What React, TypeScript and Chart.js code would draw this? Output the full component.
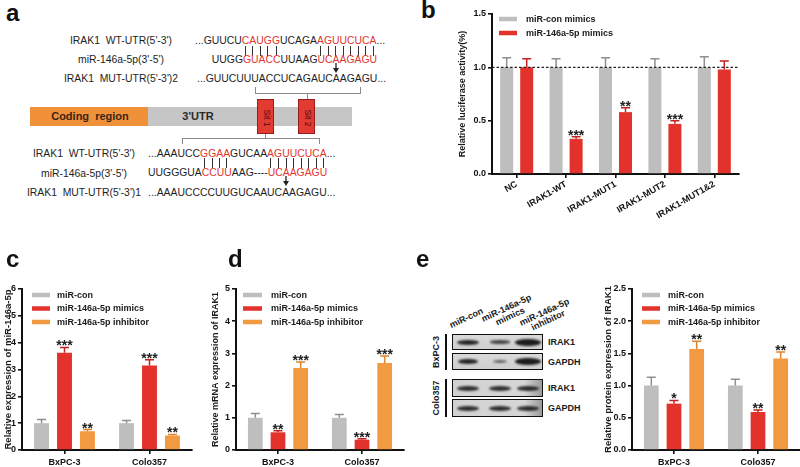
import React, { useEffect, useRef } from 'react';
import { Chart, registerables } from 'chart.js';
Chart.register(...registerables);

const FONT = '"Liberation Sans", Arial, Helvetica, sans-serif';
const GREY = '#BEBEBE';
const RED = '#E2322B';
const ORANGE = '#F29A42';
const GREY_ERR = '#8f8f8f';
const RED_ERR = '#C42222';
const ORANGE_ERR = '#DE842C';
const SEQ_RED = '#E2352E';

// ---------- Panel b data ----------
const bCategories = ['NC', 'IRAK1-WT', 'IRAK1-MUT1', 'IRAK1-MUT2', 'IRAK1-MUT1&2'];
const bSeriesNames = ['miR-con mimics', 'miR-146a-5p mimics'];
const bConValues = [1.0, 1.0, 1.0, 1.0, 1.0];
const bConErrors = [0.09, 0.08, 0.09, 0.08, 0.1];
const bConStars = ['', '', '', '', ''];
const bMimicValues = [1.0, 0.33, 0.58, 0.47, 0.98];
const bMimicErrors = [0.08, 0.02, 0.04, 0.03, 0.08];
const bMimicStars = ['', '***', '**', '***', ''];

// ---------- Panels c, d, e data ----------
const cellLines = ['BxPC-3', 'Colo357'];
const groupNames = ['miR-con', 'miR-146a-5p mimics', 'miR-146a-5p inhibitor'];

const cConValues = [1.0, 1.0];
const cConErrors = [0.14, 0.1];
const cMimicValues = [3.62, 3.15];
const cMimicErrors = [0.2, 0.21];
const cMimicStars = ['***', '***'];
const cInhibValues = [0.7, 0.54];
const cInhibErrors = [0.06, 0.04];
const cInhibStars = ['**', '**'];

const dConValues = [1.0, 1.0];
const dConErrors = [0.13, 0.1];
const dMimicValues = [0.55, 0.32];
const dMimicErrors = [0.05, 0.03];
const dMimicStars = ['**', '***'];
const dInhibValues = [2.55, 2.7];
const dInhibErrors = [0.18, 0.22];
const dInhibStars = ['***', '***'];

const eConValues = [1.0, 1.0];
const eConErrors = [0.13, 0.1];
const eMimicValues = [0.72, 0.59];
const eMimicErrors = [0.05, 0.03];
const eMimicStars = ['*', '**'];
const eInhibValues = [1.57, 1.42];
const eInhibErrors = [0.12, 0.1];
const eInhibStars = ['**', '**'];
const noStars = ['', ''];

// ---------- Panel a text ----------
const upperLabels = ["IRAK1  WT-UTR(5'-3')", "miR-146a-5p(3'-5')", "IRAK1  MUT-UTR(5'-3')2"];
const lowerLabels = ["IRAK1  WT-UTR(5'-3')", "miR-146a-5p(3'-5')", "IRAK1  MUT-UTR(5'-3')1"];
const upperSeqWT = '...GUUCUCAUGGUCAGAAGUUCUCA...';
const upperSeqMiR = 'UUGGGUACCUUAAGUCAAGAGU';
const upperSeqMUT = '...GUUCUUUACCUCAGAUCAAGAGU...';
const lowerSeqWT = '...AAAUCCGGAAGUCAAAGUUCUCA...';
const lowerSeqMiR = 'UUGGGUACCUUAAG----UCAAGAGU';
const lowerSeqMUT = '...AAAUCCCCUUGUCAAUCAAGAGU...';

// ---------- Blot text ----------
const blotLanes = ['miR-con', 'miR-146a-5p\nmimics', 'miR-146a-5p\ninhibitor'];
const blotRows = ['IRAK1', 'GAPDH', 'IRAK1', 'GAPDH'];
const blotCells = ['BxPC-3', 'Colo357'];
// band [width, height, opacity] per row and lane
const blotBands = [
  [[22, 5, 0.9], [20, 3.5, 0.75], [26, 7, 0.95]],
  [[20, 5, 0.9], [14, 3, 0.6], [26, 7, 0.95]],
  [[22, 5, 0.85], [22, 5, 0.85], [22, 5, 0.85]],
  [[22, 5, 0.85], [22, 5, 0.85], [22, 5, 0.85]],
];

const range = (a: number, b: number) => {
  const r: number[] = [];
  for (let i = a; i <= b; i++) r.push(i);
  return r;
};

type SeriesDef = { name: string; values: number[]; errors: number[]; stars: string[]; color: string; errColor: string };
type ChartDef = {
  box: number[];
  axisX: number; axisY: number; plotTop: number; plotRight: number;
  categories: string[]; series: SeriesDef[];
  yMax: number; yStep: number; yDecimals: number;
  yTitle: string; yTitleX: number; yTitleSize: number;
  legendX: number; legendW: number; legendTextX: number; legendY: number; legendGap: number;
  catPct: number; barPct: number; xRotation: number; refLine?: number;
};

function makePlugin(def: ChartDef) {
  const ox = def.box[0];
  const oy = def.box[1];
  return {
    id: 'decor',
    afterDatasetsDraw(chart: any) {
      const ctx = chart.ctx;
      const ys = chart.scales.y;
      def.series.forEach((s, i) => {
        const meta = chart.getDatasetMeta(i);
        meta.data.forEach((el: any, j: number) => {
          const x = el.x;
          const top = el.y;
          const et = ys.getPixelForValue(s.values[j] + s.errors[j]);
          ctx.save();
          ctx.strokeStyle = s.errColor;
          ctx.lineWidth = 1.5;
          ctx.beginPath();
          ctx.moveTo(x, top);
          ctx.lineTo(x, et);
          ctx.moveTo(x - 4.5, et);
          ctx.lineTo(x + 4.5, et);
          ctx.stroke();
          if (s.stars[j]) {
            ctx.fillStyle = '#222';
            ctx.font = `bold 14px ${FONT}`;
            ctx.textAlign = 'center';
            ctx.textBaseline = 'alphabetic';
            ctx.fillText(s.stars[j], x, et + 3);
          }
          ctx.restore();
        });
      });
      if (def.refLine !== undefined) {
        const yy = ys.getPixelForValue(def.refLine);
        ctx.save();
        ctx.strokeStyle = '#222';
        ctx.lineWidth = 1.2;
        ctx.setLineDash([2.5, 2]);
        ctx.beginPath();
        ctx.moveTo(chart.chartArea.left, yy);
        ctx.lineTo(chart.chartArea.right, yy);
        ctx.stroke();
        ctx.restore();
      }
    },
    afterDraw(chart: any) {
      const ctx = chart.ctx;
      ctx.save();
      def.series.forEach((s, i) => {
        const y = def.legendY + i * def.legendGap - oy;
        ctx.fillStyle = s.color;
        ctx.fillRect(def.legendX - ox, y - 2.25, def.legendW, 4.5);
        ctx.fillStyle = '#1a1a1a';
        ctx.font = `bold 9px ${FONT}`;
        ctx.textAlign = 'left';
        ctx.textBaseline = 'middle';
        ctx.fillText(s.name, def.legendTextX - ox, y + 0.5);
      });
      ctx.translate(def.yTitleX - ox, (def.plotTop + def.axisY) / 2 - oy);
      ctx.rotate(-Math.PI / 2);
      ctx.fillStyle = '#1a1a1a';
      ctx.font = `bold ${def.yTitleSize}px ${FONT}`;
      ctx.textAlign = 'center';
      ctx.textBaseline = 'middle';
      ctx.fillText(def.yTitle, 0, 0);
      ctx.restore();
    },
  };
}

function BarChart({ def }: { def: ChartDef }) {
  const ref = useRef<HTMLCanvasElement>(null);
  const [left, top, width, height] = def.box;
  useEffect(() => {
    const grid = { display: true, drawOnChartArea: false, drawTicks: true, tickLength: 4, color: '#111', lineWidth: 1.6 };
    const border = { display: true, color: '#111', width: 2 };
    const font = { family: FONT, size: 9, weight: 'bold' as const };
    const chart = new Chart(ref.current as HTMLCanvasElement, {
      type: 'bar',
      data: {
        labels: def.categories,
        datasets: def.series.map((s) => ({
          label: s.name,
          data: s.values,
          backgroundColor: s.color,
          borderWidth: 0,
          categoryPercentage: def.catPct,
          barPercentage: def.barPct,
        })),
      },
      options: {
        responsive: false,
        animation: false,
        devicePixelRatio: 1,
        layout: { padding: { top: def.plotTop - top, right: left + width - def.plotRight, left: 0, bottom: 0 } },
        plugins: { legend: { display: false }, tooltip: { enabled: false } },
        scales: {
          x: {
            type: 'category',
            offset: true,
            grid: { ...grid, offset: false },
            border,
            ticks: {
              color: '#111',
              font,
              autoSkip: false,
              minRotation: def.xRotation,
              maxRotation: def.xRotation,
              padding: def.xRotation ? 1 : 3,
            },
            afterFit: (s: any) => {
              s.height = top + height - def.axisY;
            },
          },
          y: {
            min: 0,
            max: def.yMax,
            grid,
            border,
            ticks: {
              color: '#111',
              font,
              stepSize: def.yStep,
              padding: 2,
              callback: (v: any) => Number(v).toFixed(def.yDecimals),
            },
            afterFit: (s: any) => {
              s.width = def.axisX - left;
            },
          },
        },
      } as any,
      plugins: [makePlugin(def) as any],
    });
    return () => chart.destroy();
  }, []);
  return (
    <canvas
      ref={ref}
      width={width}
      height={height}
      style={{ position: 'absolute', left, top, width, height }}
    />
  );
}

const mk = (name: string, values: number[], errors: number[], stars: string[], color: string, errColor: string): SeriesDef => ({
  name, values, errors, stars, color, errColor,
});

const bDef: ChartDef = {
  box: [450, 0, 295, 240],
  axisX: 492, axisY: 174, plotTop: 14, plotRight: 739,
  categories: bCategories,
  series: [
    mk(bSeriesNames[0], bConValues, bConErrors, bConStars, GREY, GREY_ERR),
    mk(bSeriesNames[1], bMimicValues, bMimicErrors, bMimicStars, RED, RED_ERR),
  ],
  yMax: 1.5, yStep: 0.5, yDecimals: 1,
  yTitle: 'Relative luciferase activity(%)', yTitleX: 463, yTitleSize: 9,
  legendX: 499, legendW: 18, legendTextX: 526, legendY: 19, legendGap: 14,
  catPct: 0.81, barPct: 0.65, xRotation: 30, refLine: 1.0,
};

const cDef: ChartDef = {
  box: [0, 240, 205, 227],
  axisX: 22, axisY: 450, plotTop: 289, plotRight: 192,
  categories: cellLines,
  series: [
    mk(groupNames[0], cConValues, cConErrors, noStars, GREY, GREY_ERR),
    mk(groupNames[1], cMimicValues, cMimicErrors, cMimicStars, RED, RED_ERR),
    mk(groupNames[2], cInhibValues, cInhibErrors, cInhibStars, ORANGE, ORANGE_ERR),
  ],
  yMax: 6, yStep: 1, yDecimals: 0,
  yTitle: 'Relative expression of miR-146a-5p', yTitleX: 8, yTitleSize: 9.5,
  legendX: 32, legendW: 18, legendTextX: 57, legendY: 295, legendGap: 13.5,
  catPct: 0.81, barPct: 0.65, xRotation: 0,
};

const dDef: ChartDef = {
  box: [205, 240, 205, 227],
  axisX: 236, axisY: 450, plotTop: 289, plotRight: 404,
  categories: cellLines,
  series: [
    mk(groupNames[0], dConValues, dConErrors, noStars, GREY, GREY_ERR),
    mk(groupNames[1], dMimicValues, dMimicErrors, dMimicStars, RED, RED_ERR),
    mk(groupNames[2], dInhibValues, dInhibErrors, dInhibStars, ORANGE, ORANGE_ERR),
  ],
  yMax: 5, yStep: 1, yDecimals: 0,
  yTitle: 'Relative mRNA expression of IRAK1', yTitleX: 216, yTitleSize: 9,
  legendX: 243, legendW: 19, legendTextX: 271, legendY: 295, legendGap: 13.5,
  catPct: 0.81, barPct: 0.65, xRotation: 0,
};

const eDef: ChartDef = {
  box: [595, 240, 205, 227],
  axisX: 632, axisY: 450, plotTop: 289, plotRight: 800,
  categories: cellLines,
  series: [
    mk(groupNames[0], eConValues, eConErrors, noStars, GREY, GREY_ERR),
    mk(groupNames[1], eMimicValues, eMimicErrors, eMimicStars, RED, RED_ERR),
    mk(groupNames[2], eInhibValues, eInhibErrors, eInhibStars, ORANGE, ORANGE_ERR),
  ],
  yMax: 2.5, yStep: 0.5, yDecimals: 1,
  yTitle: 'Relative protein expression of IRAK1', yTitleX: 608, yTitleSize: 9.5,
  legendX: 642, legendW: 18, legendTextX: 668, legendY: 295, legendGap: 13.5,
  catPct: 0.81, barPct: 0.65, xRotation: 0,
};

// ---------- Panel a components ----------
const SEQ_FS = 10.4;

function Seq({ x, cy, text, red = [], hideFirst = 0, pairs, arrow }: any) {
  const ghost = !!pairs || arrow !== undefined;
  return (
    <div style={{ position: 'absolute', left: x, top: cy - 6, fontSize: SEQ_FS, lineHeight: '12px', whiteSpace: 'pre' }}>
      {text.split('').map((ch: string, i: number) => {
        const hidden = ghost || i < hideFirst;
        const color = hidden ? 'transparent' : red.includes(i) ? SEQ_RED : '#1e1e1e';
        return (
          <span key={i} style={{ display: 'inline-block', position: 'relative', color }}>
            {ch}
            {pairs && pairs.includes(i) && (
              <span style={{ position: 'absolute', left: '45%', top: 1, width: 1, height: 10, background: '#333' }} />
            )}
            {arrow === i && (
              <svg width="8" height="10" style={{ position: 'absolute', left: '50%', marginLeft: -4, top: 1 }}>
                <line x1="4" y1="0" x2="4" y2="7" stroke="#222" strokeWidth="1.3" />
                <polygon points="1,5 7,5 4,10" fill="#222" />
              </svg>
            )}
          </span>
        );
      })}
    </div>
  );
}

function Label({ cx, cy, text }: any) {
  return (
    <div style={{ position: 'absolute', left: cx - 100, width: 200, top: cy - 6, textAlign: 'center', fontSize: SEQ_FS, lineHeight: '12px', whiteSpace: 'pre', color: '#1e1e1e' }}>
      {text}
    </div>
  );
}

const Line = ({ x1, y1, x2, y2 }: any) => (
  <div style={{ position: 'absolute', left: Math.min(x1, x2), top: Math.min(y1, y2), width: Math.max(Math.abs(x2 - x1), 1), height: Math.max(Math.abs(y2 - y1), 1), background: '#8a8a8a' }} />
);

function PanelA() {
  const upPrefix = '...G';
  return (
    <>
      {upperLabels.map((t, i) => (
        <Label key={'u' + i} cx={121} cy={41 + i * 19} text={t} />
      ))}
      <Seq x={195} cy={41} text={upperSeqWT} red={[...range(8, 12), ...range(18, 25)]} />
      <Seq x={195} cy={51} text={upperSeqWT} pairs={[...range(8, 12), ...range(18, 25)]} />
      <Seq x={195} cy={60} text={upPrefix + upperSeqMiR} hideFirst={4} red={[...range(8, 12), ...range(18, 25)]} />
      <Seq x={195} cy={68} text={upPrefix + upperSeqMiR} arrow={20} />
      <Seq x={197} cy={79} text={upperSeqMUT} />

      <Line x1={255} y1={87} x2={256} y2={93} />
      <Line x1={255} y1={93} x2={361} y2={94} />
      <Line x1={360} y1={87} x2={361} y2={93} />
      <Line x1={307} y1={93} x2={308} y2={100} />

      <div style={{ position: 'absolute', left: 30, top: 107, width: 118, height: 19, background: '#F0913A' }} />
      <div style={{ position: 'absolute', left: 148, top: 107, width: 204, height: 19, background: '#C6C6C6' }} />
      <div style={{ position: 'absolute', left: 30, top: 107, width: 120, height: 19, lineHeight: '19px', textAlign: 'center', fontSize: 11, fontWeight: 'bold', color: '#3a2616', whiteSpace: 'pre' }}>
        {'Coding  region'}
      </div>
      <div style={{ position: 'absolute', left: 170, top: 107, width: 56, height: 19, lineHeight: '19px', textAlign: 'center', fontSize: 11, fontWeight: 'bold', color: '#2a2a2a' }}>
        3'UTR
      </div>
      {[{ x: 257, t: 'Sit 1' }, { x: 298, t: 'Sit 2' }].map((s) => (
        <div key={s.t} style={{ position: 'absolute', left: s.x, top: 99, width: 17, height: 35, background: '#E33A32', border: '1px solid #9a1d1d', boxSizing: 'border-box' }}>
          <div style={{ position: 'absolute', left: 8.5, top: 17.5, transform: 'translate(-50%,-50%) rotate(90deg)', fontSize: 8.5, color: '#4a0c0c', whiteSpace: 'nowrap' }}>
            {s.t}
          </div>
        </div>
      ))}

      <Line x1={265} y1={134} x2={266} y2={138} />
      <Line x1={182} y1={138} x2={320} y2={139} />
      <Line x1={182} y1={138} x2={183} y2={144} />
      <Line x1={319} y1={138} x2={320} y2={144} />

      {lowerLabels.map((t, i) => (
        <Label key={'l' + i} cx={84} cy={154 + i * 19.5} text={t} />
      ))}
      <Seq x={148} cy={154} text={lowerSeqWT} red={[...range(9, 12), ...range(18, 25)]} />
      <Seq x={148} cy={163} text={lowerSeqWT} pairs={[...range(9, 12), ...range(18, 25)]} />
      <Seq x={148} cy={173} text={lowerSeqMiR} red={[...range(7, 10), ...range(18, 25)]} />
      <Seq x={148} cy={181} text={lowerSeqMiR} arrow={20} />
      <Seq x={148} cy={193} text={lowerSeqMUT} />
    </>
  );
}

// ---------- Western blot ----------
const laneX = [468, 500, 528];
const rowBoxes = [
  [334, 16],
  [353, 17],
  [379, 18],
  [399, 18],
];
const laneHeaderOrigins = [
  [452, 330],
  [488, 332],
  [526, 336],
];

function Blot() {
  return (
    <>
      {rowBoxes.map(([t, h], r) => (
        <div key={'box' + r} style={{ position: 'absolute', left: 452, top: t, width: 91, height: h, border: '1.5px solid #111', boxSizing: 'border-box', background: r >= 2 ? 'linear-gradient(90deg,#d2d2d2 0%,#d6d6d6 80%,#9a9a9a 100%)' : 'linear-gradient(180deg,#d9d9d9,#cfcfcf)' }} />
      ))}
      {rowBoxes.map(([t, h], r) =>
        blotBands[r].map(([w, bh, op], l) => (
          <div key={'b' + r + l} style={{ position: 'absolute', left: laneX[l] - w / 2, top: t + h / 2 - bh / 2, width: w, height: bh, borderRadius: '50%', background: `rgba(18,18,18,${op})`, filter: 'blur(0.9px)' }} />
        ))
      )}
      {blotRows.map((name, r) => (
        <div key={'rn' + r} style={{ position: 'absolute', left: 548, top: rowBoxes[r][0] + rowBoxes[r][1] / 2 - 6, fontSize: 9, lineHeight: '12px', fontWeight: 'bold', color: '#1a1a1a' }}>
          {name}
        </div>
      ))}
      <div style={{ position: 'absolute', left: 445, top: 334, width: 1.5, height: 36, background: '#111' }} />
      <div style={{ position: 'absolute', left: 445, top: 379, width: 1.5, height: 38, background: '#111' }} />
      {blotCells.map((c, i) => (
        <div key={c} style={{ position: 'absolute', left: 436, top: i === 0 ? 352 : 398, transform: 'translate(-50%,-50%) rotate(-90deg)', fontSize: 9, fontWeight: 'bold', color: '#1a1a1a', whiteSpace: 'nowrap' }}>
          {c}
        </div>
      ))}
      {blotLanes.map((lab, i) => {
        const lines = lab.split('\n');
        const pos = laneHeaderOrigins[i];
        const h = lines.length * 9;
        return (
          <div key={'ln' + i} style={{ position: 'absolute', left: pos[0], top: pos[1] - h, height: h, transformOrigin: 'left bottom', transform: 'rotate(-25deg)', fontSize: 9, lineHeight: '9px', fontWeight: 'bold', color: '#1a1a1a', textAlign: 'center', whiteSpace: 'nowrap' }}>
            {lines.map((l, k) => (
              <div key={k}>{l}</div>
            ))}
          </div>
        );
      })}
    </>
  );
}

const Letter = ({ x, top, t }: any) => (
  <div style={{ position: 'absolute', left: x, top, fontSize: 24, lineHeight: '24px', fontWeight: 'bold', color: '#111' }}>{t}</div>
);

export default function App() {
  return (
    <div style={{ position: 'absolute', left: 0, top: 0, width: 800, height: 467, overflow: 'hidden', background: '#fff', fontFamily: FONT, color: '#222' }}>
      <PanelA />
      <BarChart def={bDef} />
      <BarChart def={cDef} />
      <BarChart def={dDef} />
      <Blot />
      <BarChart def={eDef} />
      <Letter x={6} top={1} t="a" />
      <Letter x={421} top={-2} t="b" />
      <Letter x={6} top={247} t="c" />
      <Letter x={228} top={247} t="d" />
      <Letter x={416} top={247} t="e" />
    </div>
  );
}
